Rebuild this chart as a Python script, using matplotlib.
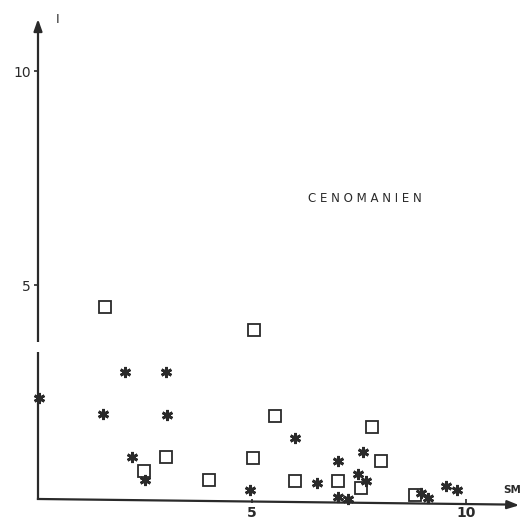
import matplotlib
matplotlib.use("Agg")
import matplotlib.pyplot as plt

# Cenomanien: open squares and asterisks
square_x = [1.57, 5.05, 5.54, 7.80, 8.01, 2.99, 2.48, 4.00, 5.02, 6.00, 7.00, 7.54, 8.81]
square_y = [4.49, 3.95, 1.95, 1.69, 0.88, 0.98, 0.66, 0.44, 0.96, 0.41, 0.43, 0.25, 0.10]

star_x = [0.03, 2.03, 3.00, 1.53, 3.02, 2.19, 2.50, 4.95, 6.00, 6.51, 7.02, 7.59,
          7.48, 7.66, 7.02, 7.25, 8.96, 9.12, 9.53, 9.78]
star_y = [2.36, 2.97, 2.96, 1.98, 1.96, 0.99, 0.44, 0.22, 1.42, 0.37, 0.89, 1.10,
          0.58, 0.43, 0.05, 0.00, 0.15, 0.02, 0.30, 0.20]

x_ticks = [5, 10]
y_ticks = [5, 10]
ink = "#2a2a2a"

fig = plt.figure(figsize=(5.22, 5.23), dpi=100)
ax = fig.add_axes([0, 0, 1, 1])
ax.set_xlim(-0.888, 11.31)
ax.set_ylim(-0.561, 11.66)

for s in ["top", "right", "left", "bottom"]:
    ax.spines[s].set_visible(False)
ax.spines["left"].set_position(("data", 0))
ax.spines["bottom"].set_position(("data", 0))

# axes drawn by hand (the x axis leans a little in the scan)
ax.plot([0, 0], [-0.02, 3.43], color=ink, lw=1.6, solid_capstyle="butt")
ax.plot([0, 0], [3.67, 11.0], color=ink, lw=1.6, solid_capstyle="butt")
ax.plot([0, 11.0], [0.0, -0.13], color=ink, lw=1.6)
ax.annotate("", xy=(0, 11.28), xytext=(0, 10.9),
            arrowprops=dict(arrowstyle="-|>,head_width=0.25,head_length=0.7",
                            color=ink, lw=1.6))
ax.annotate("", xy=(11.31, -0.15), xytext=(10.9, -0.13),
            arrowprops=dict(arrowstyle="-|>,head_width=0.25,head_length=0.7",
                            color=ink, lw=1.6))

ax.set_xticks(x_ticks)
ax.set_yticks(y_ticks)
ax.set_xticklabels([str(t) for t in x_ticks])
ax.set_yticklabels([str(t) for t in y_ticks])
ax.tick_params(axis="both", direction="out", length=3, width=1.2, color=ink,
               labelsize=10, labelcolor=ink, pad=2)
for lab in ax.get_xticklabels():
    lab.set_fontweight("bold")

ax.plot(square_x, square_y, linestyle="none", marker="s", markersize=8,
        markerfacecolor="white", markeredgecolor=ink, markeredgewidth=1.3)
ax.plot(star_x, star_y, linestyle="none", marker=(6, 2, 0), markersize=8,
        markeredgecolor=ink, markeredgewidth=2.0, color=ink)

ax.text(0.45, 11.2, "I", fontsize=9, color=ink, ha="center", va="center")
ax.text(11.29, 0.22, "SM", fontsize=7.5, fontweight="bold", color=ink,
        ha="right", va="center")
ax.text(7.64, 7.03, "C E N O M A N I E N", fontsize=8.5, color=ink,
        ha="center", va="center")

fig.savefig("out.png", dpi=100)
